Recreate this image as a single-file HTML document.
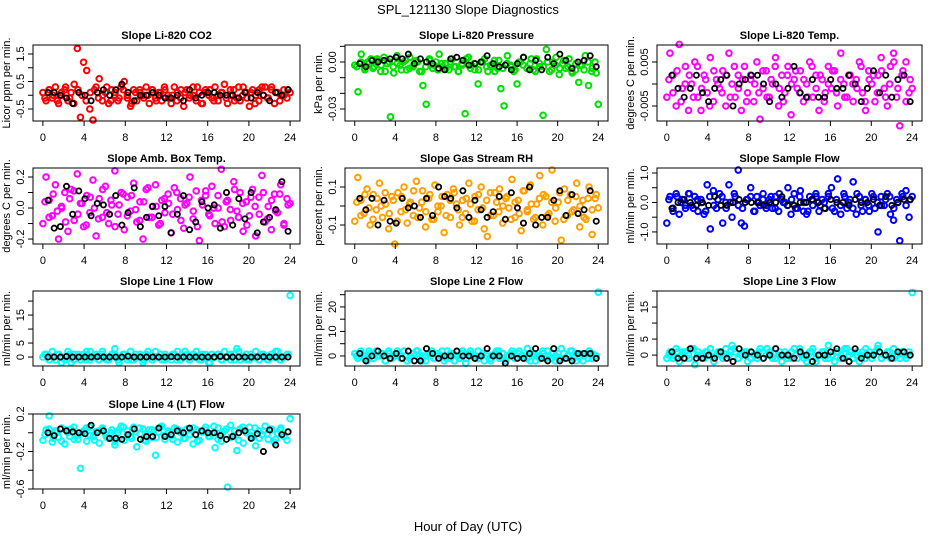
<!DOCTYPE html>
<html><head><meta charset="utf-8"><style>
body{margin:0;background:#fff}
svg{display:block;font-family:"Liberation Sans",sans-serif}
</style></head><body>
<svg id="c" width="936" height="540" viewBox="0 0 936 540">
<text x="468" y="14" text-anchor="middle" font-size="13">SPL_121130  Slope Diagnostics</text>
<text x="468" y="531" text-anchor="middle" font-size="13">Hour of Day (UTC)</text>
</svg>
<script>
const xTicks=[0,4,8,12,16,20,24];
const titles=["Slope Li-820 CO2","Slope Li-820 Pressure","Slope Li-820 Temp.","Slope Amb. Box Temp.","Slope Gas Stream RH","Slope Sample Flow","Slope Line 1 Flow","Slope Line 2 Flow","Slope Line 3 Flow","Slope Line 4 (LT) Flow"];
const yTitles=["Licor ppm per min.","kPa per min.","degrees C per min.","degrees C per min.","percent per min.","ml/min per min.","ml/min per min.","ml/min per min.","ml/min per min.","ml/min per min."];
const yTickVals=[[-0.5,0,0.5,1,1.5],[0.01,0,-0.01,-0.02,-0.03],[0.005,0,-0.005],[0.2,0.1,0,-0.1,-0.2],[0.1,0,-0.1],[1,0.5,0,-0.5,-1],[0,5,10,15,20],[0,5,10,15,20,25],[0,5,10,15,20],[0.2,0,-0.2,-0.4,-0.6]];
const yTickLabels=[["-0.5","","0.5","","1.5"],["","0.00","","","-0.03"],["0.005","","-0.005"],["0.2","","0.0","","-0.2"],["0.1","","-0.1"],["1.0","","0.0","","-1.0"],["0","5","","15",""],["0","","10","","20",""],["0","5","","15",""],["0.2","","-0.2","","-0.6"]];
const yLims=[[-0.936,1.827],[-0.03766,0.01085],[-0.00841,0.00886],[-0.232,0.258],[-0.2,0.2],[-1.41,1.17],[-3.2,23.6],[-4.1,26.5],[-3.4,20],[-0.6,0.2]];
const colors=["#ff0000","#00e000","#ff00ff","#ff00ff","#ffa000","#0000ff","#00ffff","#00ffff","#00ffff","#00ffff"];
const c1=[0.1,-0.2,0.2,-0.1,0.3,-0.3,0.0,0.2,-0.2,0.1,0.4,1.7,-0.8,1.2,0.9,-0.5,-0.9,0.3,0.6,-0.2,0.1,-0.3,0.2,0.0,-0.2,0.3,0.5,-0.1,-0.4,0.2,-0.2,0.1,0.0,0.3,-0.3,0.2,-0.1,0.1,-0.2,0.2,0.0,-0.3,0.3,0.1,-0.1,-0.4,0.2,0.0,0.3,-0.2,0.1,-0.3,0.2,0.0,-0.1,0.3,-0.2,0.1,0.4,-0.3,0.0,0.2,-0.1,-0.2,0.3,0.1,-0.4,0.2,0.0,-0.2,0.3,0.3,-0.1,0.2,-0.3,0.1,0.0,0.2,-0.1,0.1];
const c1b=[-0.1,0.2,0,-0.2,0.1,0.3,-0.1,-0.3,0.2,0,-0.2,0.1,0.2,-0.1,0,0.3,-0.2,0.1,-0.1,0.2,0,-0.3,0.1,0.2,-0.1,0,0.2,-0.2,0.1,0.3,-0.1,0,-0.2,0.2,0.1,-0.1,0,0.3,-0.3,0.1,0.2,-0.2,0,0.1,-0.1,0.2,-0.2,0.3,0,-0.1,0.1,-0.3,0.2,0,-0.1,0.3,0.1,-0.2,0,0.2];
const k1=[0.1,0.1,0.0,-0.1,-0.3,0.1,0.0,-0.2,0.1,0.2,0.0,0.2,0.4,0.1,-0.2,0.0,0.0,0.1,0.0,-0.1,-0.1,0.0,-0.2,0.2,-0.1,0.0,0.1,0.1,0.0,0.0,0.0,-0.1,0.1,-0.1,0.1,0.0,-0.2,0.1,0.0,0.2];
const c2=[-0.002,-0.019,0.005,-0.004,0,0.002,-0.003,0.001,-0.006,0.003,-0.001,-0.035,-0.007,0.004,-0.002,0,-0.005,0.003,-0.003,0.001,-0.006,-0.015,-0.027,0.002,-0.004,0,0.005,-0.003,-0.001,-0.005,0.002,-0.003,-0.006,-0.001,-0.033,0.003,-0.002,-0.005,-0.014,0,0.002,-0.006,-0.003,0.001,-0.004,-0.017,-0.028,0.004,-0.002,-0.006,-0.014,0,0.003,-0.004,-0.001,-0.005,0.002,-0.003,-0.034,0.008,-0.006,0,0.003,-0.008,-0.001,-0.004,0.002,-0.007,-0.005,-0.013,-0.002,0.004,-0.015,-0.006,0,-0.027];
const c2b=[-0.003,0,-0.005,-0.001,-0.004,0.002,-0.002,-0.006,0,-0.003,-0.001,-0.005,0.001,-0.004,-0.002,0,-0.006,-0.003,0.001,-0.002,-0.005,-0.001,-0.004,0,-0.003,-0.006,-0.002,0.002,-0.004,-0.001,-0.005,0,-0.003,-0.002,-0.006,0.001,-0.004,-0.001,-0.003,-0.005,0,-0.002,-0.004,0.002,-0.006,-0.001,-0.003,0,-0.005,-0.002,-0.004,0.001,-0.003,-0.006,-0.001,-0.002,-0.005,0,-0.004,-0.007];
const k2=[-0.001,-0.003,0.001,0,0.001,0.002,0.003,0.002,0.005,-0.001,0.002,0,-0.001,-0.004,-0.005,0.002,0.003,0.001,-0.002,-0.001,0,0.004,-0.001,-0.003,-0.002,-0.005,-0.001,0.003,-0.005,0.001,-0.005,0.003,-0.001,0.005,0.001,-0.004,0,0.001,0.004,-0.003];
const c3=[-0.003,0.007,0.002,-0.005,0.009,-0.001,0.004,-0.006,0,0.005,-0.003,-0.006,0.002,-0.002,0.006,-0.004,0.001,-0.001,0.003,-0.005,0.007,0,-0.003,0.002,-0.006,0.004,-0.002,0.001,-0.004,0.005,-0.008,-0.001,0.003,-0.003,0,0.006,-0.005,0.002,-0.002,0.004,-0.007,0.001,-0.001,0.003,-0.004,0,0.005,-0.003,0.002,-0.006,0.001,-0.002,0.004,-0.001,0.003,-0.005,0.007,0,-0.003,0.002,-0.004,0.001,0.005,-0.002,-0.006,0.003,0,-0.004,0.002,0.006,-0.001,-0.005,0.004,0.007,-0.003,-0.0095,0.003,0.005,-0.002,-0.001];
const c3b=[0.001,-0.002,0.003,-0.004,0,0.002,-0.003,0.004,-0.001,0.001,-0.005,0.003,0,-0.002,0.002,-0.003,0.004,-0.001,0.001,-0.004,0.002,0,-0.002,0.003,-0.003,0.001,0.004,-0.001,-0.004,0.002,0,0.003,-0.002,0.001,-0.003,0.004,-0.001,0.002,-0.004,0,0.003,-0.002,0.001,-0.003,0.002,0,-0.001,0.004,-0.004,0.001,0.002,-0.002,0.003,-0.003,0,0.005,-0.001,0.002,-0.004,0.001];
const k3=[0.002,-0.001,-0.003,-0.001,0.002,-0.002,-0.004,-0.001,0.001,0.002,-0.005,0,0.001,0.002,0.002,0,-0.004,0,-0.003,-0.001,0.004,-0.002,-0.003,0.001,-0.003,-0.003,0.001,-0.001,-0.001,0.002,0,-0.004,-0.001,0.003,-0.002,0.002,-0.003,0.001,0.002,-0.004];
const c4=[-0.10,0.20,0.05,-0.05,0.15,-0.20,0,0.10,-0.15,0.12,-0.08,0.22,0.03,-0.12,0.08,-0.03,0.18,-0.18,0.06,-0.06,0.14,-0.10,0.02,0.24,-0.04,0.10,-0.14,0.07,-0.02,0.16,-0.09,0.04,-0.20,0.12,-0.06,0.01,0.15,-0.11,0.05,-0.03,0.09,-0.16,0.13,-0.01,0.06,-0.13,0.03,0.20,-0.07,0.11,-0.21,0.02,0.08,-0.04,0.14,-0.10,0,0.25,-0.12,0.05,-0.08,0.17,-0.02,0.10,-0.15,0.04,-0.05,0.12,-0.18,0.07,0.21,-0.09,0.01,-0.14,0.09,-0.03,0.15,-0.11,0.06,0.03];
const c4b=[0.04,-0.06,0.09,-0.02,0.01,-0.09,0.06,0.11,-0.04,0.03,-0.11,0.07,0,-0.07,0.12,-0.03,0.05,-0.12,0.02,0.09,-0.05,0.08,-0.01,-0.08,0.04,0.13,-0.06,0.01,-0.10,0.06,0.03,-0.04,0.10,-0.08,0.02,0.07,-0.02,-0.12,0.05,0.11,-0.05,0,0.08,-0.09,0.04,-0.01,0.12,-0.06,0.03,-0.11,0.07,0.01,-0.04,0.10,-0.07,0.05,-0.02,0.09,-0.10,0.02];
const k4=[0.05,-0.13,-0.12,0.14,-0.04,0.11,0.06,-0.05,0.03,0.02,-0.04,0.08,-0.11,-0.03,0.13,-0.12,-0.06,0.01,-0.05,0.01,-0.16,-0.04,0.08,-0.14,-0.09,0.04,0,0.02,-0.13,0.10,-0.11,0.06,-0.07,0.10,-0.16,-0.09,-0.06,-0.01,0.17,-0.15];
const c5=[-0.08,0.15,0.03,-0.04,0.09,-0.10,0.06,-0.02,0.12,-0.06,0.01,-0.12,0.05,-0.20,0.07,-0.03,0.10,-0.09,0.02,-0.05,0.13,-0.01,0.08,-0.11,0.04,-0.07,0.11,-0.03,0,-0.14,0.06,-0.06,0.09,0.01,-0.10,0.03,-0.04,0.12,-0.08,0.05,-0.02,0.10,-0.12,-0.16,0.07,-0.05,0.02,0.09,-0.09,0.04,-0.01,0.14,-0.06,0.03,-0.13,0.08,-0.03,0.11,-0.07,0.01,0.16,-0.10,0.05,-0.04,0.19,-0.08,0.02,-0.18,0.09,-0.05,0.06,-0.02,0.12,-0.11,0.03,-0.07,0.10,-0.15,0.04,-0.01];
const c5b=[0.02,-0.05,0.06,-0.01,-0.07,0.04,0,0.07,-0.04,0.03,-0.08,0.05,-0.02,0.01,0.08,-0.06,0.02,-0.03,0.06,-0.07,0,0.05,-0.05,0.03,0.07,-0.02,-0.06,0.04,0.01,-0.08,0.06,-0.01,0.03,-0.05,0.07,-0.03,0,0.05,-0.07,0.02,-0.04,0.08,-0.02,0.01,-0.06,0.04,0.06,-0.05,0.02,-0.01,0.07,-0.07,0.03,-0.03,0.05,0,-0.06,0.04,-0.02,0.06];
const k5=[0.04,-0.02,0.04,-0.10,0.03,-0.08,-0.09,0.04,-0.01,0,-0.06,0.04,-0.05,0.10,0.05,0.04,-0.01,0.08,-0.06,0.03,-0.02,-0.06,-0.03,0.05,-0.07,0.07,-0.01,-0.09,0.10,-0.10,-0.06,-0.06,0.03,0.08,-0.05,0.06,-0.04,-0.02,0.08,-0.08];
const c6=[-0.7,0.2,-0.3,0.3,-0.4,0.1,-0.2,0.3,-0.1,0.2,-0.3,0.1,-0.4,0.6,-0.9,0.4,-0.2,0.3,-0.7,0,0.6,-0.5,0.2,1.1,-0.7,-0.8,0.1,0.5,-0.3,0.2,-0.1,0.3,-0.2,0.1,-0.2,0.2,-0.3,0.1,0,0.5,-0.4,0.3,-0.2,0.4,-0.3,-0.4,0.2,-0.1,0.3,-0.3,0.1,-0.2,0.2,0.5,-0.3,0.8,-0.4,0.3,-0.2,0.1,0.7,-0.4,0.2,-0.3,0.1,-0.1,0.3,-0.2,-1.0,0.2,-0.1,0.3,-0.4,-0.6,0.1,-1.3,0.2,0.4,-0.5,0.2];
const c6b=[0.1,-0.2,0.2,0,-0.1,0.3,-0.2,0.1,0,-0.3,0.2,-0.1,0.1,0.2,-0.2,0,0.3,-0.1,-0.2,0.1,0.2,-0.3,0,0.1,-0.1,0.2,-0.2,0.3,0,-0.1,0.1,-0.2,0.2,0,-0.3,0.1,0.2,-0.1,0,0.3,-0.2,0.1,-0.1,0.2,0,-0.2,0.3,-0.1,0.1,-0.3,0.2,0,-0.1,0.1,0.2,-0.2,0,0.3,-0.1,0.1];
const k6=[-0.2,0,0.1,0,-0.1,0,-0.1,0.2,-0.1,-0.1,0,0.1,0,0,0,-0.1,0,0,0.2,-0.1,-0.1,0,0,0.1,0,-0.2,0.1,0,0,-0.1,0.1,0,0,0.1,-0.1,0.2,-0.1,0,0.1,0.1];
const c7=[0,1,-1,2,-1,1,0,-1,2,-2,1,0,-1,1,2,-1,0,1,-1,2,0,-1,1,3,-1,0,1,-1,2,-1,0,1,-2,1,0,-1,2,0,-1,1,0,-1,1,2,-1,0,1,-1,0,2,-1,1,0,-2,1,0,1,-1,2,0,-1,1,3,-1,0,1,-1,0,2,-1,1,0,-1,1,0,2,-1,0,1,22];
const c7b=[1,-1,0,1,-2,0,1,-1,1,0,-1,2,0,-1,1,-1,0,1,-2,1,0,-1,1,0,-1,2,-1,0,1,-1,0,1,-1,0,2,-1,1,0,-1,1,-2,0,1,-1,0,1,-1,2,0,-1,1,0,-1,1,-1,0,2,-1,0,1];
const k7=[0,0,0,0.2,0,0,0,0,0.1,0,0,0,0,0.3,0,0,0,0,0,0,0.1,0,0,0,0,0,0,0,0.2,0,0,0,0,0,0,0.1,0,0,0,0];
const c8=[1,-1,2,0,-2,1,-1,2,0,1,-2,2,-1,0,1,-1,2,-2,0,1,2,-1,0,-2,1,2,-1,1,0,-2,2,-1,1,0,-1,2,-3,1,0,-1,2,0,-2,1,-1,0,2,-1,1,-2,0,2,-1,1,0,-1,3,-2,1,0,-1,2,-1,0,1,-2,1,3,-1,0,2,-1,1,0,-2,1,2,-1,0,26];
const c8b=[0,1,-1,2,-1,0,1,-2,1,0,2,-1,0,-1,1,2,-2,0,1,-1,0,2,-1,1,-2,0,1,-1,2,0,-1,1,0,-2,1,2,-1,0,1,-1,2,0,-1,1,-2,0,1,2,-1,0,-1,1,0,2,-2,1,0,-1,1,0];
const k8=[1,-2,0,2,0,-1,1,-1,2,-2,-2,3,1,-1,0,0,2,0,0,-1,0,3,0,0,-3,0,-1,-1,1,3,-1,-2,3,-2,-1,-2,1,1,1,-1];
const c9=[-1,1,0,2,-2,1,-1,0,2,-3,1,0,-1,1,2,-1,0,1,-1,2,0,3,1,-1,0,1,-2,1,0,-1,2,-1,0,1,-1,2,0,-2,1,0,-1,2,-1,1,0,-2,1,2,-1,0,1,-1,3,0,-2,1,0,-1,2,1,-1,0,-2,1,2,0,-1,1,3,-1,0,1,-1,2,0,-1,1,0,1,19.5];
const c9b=[0,-1,1,0,1,-1,2,0,-1,1,0,-2,1,0,-1,1,2,-1,0,1,-1,0,1,-1,2,0,-1,1,0,-1,1,0,2,-1,0,1,-2,0,1,-1,0,1,-1,2,0,-1,1,0,-1,1,0,2,-1,0,1,-1,0,1,-1,0];
const k9=[1,-1,-1,2,-1,-1,0,-1,1,-1,-2,2,0,1,0,-1,0,2,0,0,-1,1,0,-2,0,0,1,2,-1,-2,2,-1,0,0,1,0,-1,1,1,0];
const c10=[-0.08,0.03,0.18,-0.10,0.02,-0.05,0.05,-0.12,0,0.04,-0.07,-0.03,-0.38,0.02,-0.09,0.06,-0.04,0.01,-0.11,0.05,-0.02,-0.06,0.03,-0.13,0,0.07,-0.08,0.02,-0.04,0.06,-0.15,-0.01,0.04,-0.09,0.03,-0.05,-0.24,0.01,0.07,-0.07,0.02,-0.03,0.05,-0.10,0,-0.06,0.04,-0.02,-0.12,0.03,-0.08,0.01,0.06,-0.04,-0.01,-0.16,0.05,-0.09,0.02,-0.58,0.08,-0.03,-0.19,0.04,-0.11,0,0.06,-0.05,-0.14,0.02,-0.02,0.07,-0.07,0.03,-0.10,-0.01,0.05,-0.04,-0.08,0.15];
const c10b=[-0.02,0.04,-0.06,0.01,-0.09,0.03,-0.04,0.06,-0.07,0,0.05,-0.03,-0.08,0.02,0.04,-0.05,0,-0.09,0.03,0.06,-0.02,-0.06,0.01,0.05,-0.08,-0.01,0.03,-0.05,0.06,-0.03,0,-0.07,0.04,0.02,-0.06,-0.02,0.05,-0.09,0.01,0.03,-0.04,0.07,-0.07,-0.01,0.04,-0.05,0.02,-0.08,0.06,0,-0.03,0.05,-0.06,0.02,-0.01,0.04,-0.07,0.03,-0.04,0.01];
const k10=[0,-0.03,0.04,0.02,0.01,0,-0.01,0.08,0,0.02,-0.06,-0.06,-0.07,-0.02,0.04,-0.07,-0.04,-0.04,0.05,-0.04,-0.02,0.02,0,0.05,-0.02,0.02,0,0,-0.03,-0.07,-0.04,0,0.02,-0.06,-0.01,-0.2,0.03,-0.13,-0.02,0.01];
const colorSeries=[c1,c2,c3,c4,c5,c6,c7,c8,c9,c10];
const colorSeriesB=[c1b,c2b,c3b,c4b,c5b,c6b,c7b,c8b,c9b,c10b];
const blackSeries=[k1,k2,k3,k4,k5,k6,k7,k8,k9,k10];

const NS="http://www.w3.org/2000/svg";
const svg=document.getElementById('c');
const colBox=[[33,300],[345,608],[657,922]];
const rowBox=[[45,121],[168,244],[291,366],[414,489]];
function mk(tag,attrs,parent){const e=document.createElementNS(NS,tag);for(const k in attrs)e.setAttribute(k,attrs[k]);(parent||svg).appendChild(e);return e;}
for(let p=0;p<10;p++){
  const col=p%3,row=Math.floor(p/3);
  const [x0,x1]=colBox[col],[y0,y1]=rowBox[row];
  const pad=(x1-x0)/1.08*0.04;
  const xs=h=>x0+pad+(h/24)*(x1-x0-2*pad);
  const [lo,hi]=yLims[p];
  const ys=v=>y1-(v-lo)/(hi-lo)*(y1-y0);
  const g=mk('g',{});
  
  
  const t=mk('text',{x:(x0+x1)/2,y:y0-6,'text-anchor':'middle','font-size':11,'font-weight':'bold'},g);
  t.textContent=titles[p];
  
  
  const cs=colorSeries[p];
  cs.forEach((v,i)=>{
    const h=i/(cs.length-1)*24;
    const c=mk('circle',{cx:xs(h),cy:ys(v),r:2.8,fill:'none',stroke:colors[p],'stroke-width':2},g);
    
    
  });
  const cb=colorSeriesB[p];
  cb.forEach((v,i)=>{
    const h=(i+0.5)/cb.length*24;
    const c=mk('circle',{cx:xs(h),cy:ys(v),r:2.8,fill:'none',stroke:colors[p],'stroke-width':2},g);
    
    
  });
  const ks=blackSeries[p];
  ks.forEach((v,i)=>{
    const h=0.5+i/(ks.length-1)*23.3;
    const c=mk('circle',{cx:xs(h),cy:ys(v),r:2.6,fill:'none',stroke:'#000','stroke-width':1.8},g);
    
    
  });
  const box=mk('rect',{x:x0,y:y0,width:x1-x0,height:y1-y0,fill:'none',stroke:'#000','stroke-width':1},g);
  
  
  const xa=mk('g',{},g);
  
  
  mk('line',{x1:xs(0),x2:xs(24),y1:y1,y2:y1,stroke:'#000'},xa);
  xTicks.forEach(h=>{
    mk('line',{x1:xs(h),x2:xs(h),y1:y1,y2:y1+5,stroke:'#000'},xa);
    const l=mk('text',{x:xs(h),y:y1+20,'text-anchor':'middle','font-size':11},xa);
    l.textContent=h;
    
    
  });
  const ya=mk('g',{},g);
  
  
  const tv=yTickVals[p];
  tv.forEach((v,i)=>{
    const yy=ys(v);
    mk('line',{x1:x0-5,x2:x0,y1:yy,y2:yy,stroke:'#000'},ya);
    if(yTickLabels[p][i]){
      const l=mk('text',{x:0,y:0,'text-anchor':'middle','font-size':11,transform:`translate(${x0-9},${yy}) rotate(-90)`},ya);
      l.textContent=yTickLabels[p][i];
      
      
    }
  });
  const yt=mk('text',{x:0,y:0,'text-anchor':'middle','font-size':11,transform:`translate(${x0-23},${(y0+y1)/2}) rotate(-90)`},g);
  yt.textContent=yTitles[p];
  
  
}
</script>
</body></html>
